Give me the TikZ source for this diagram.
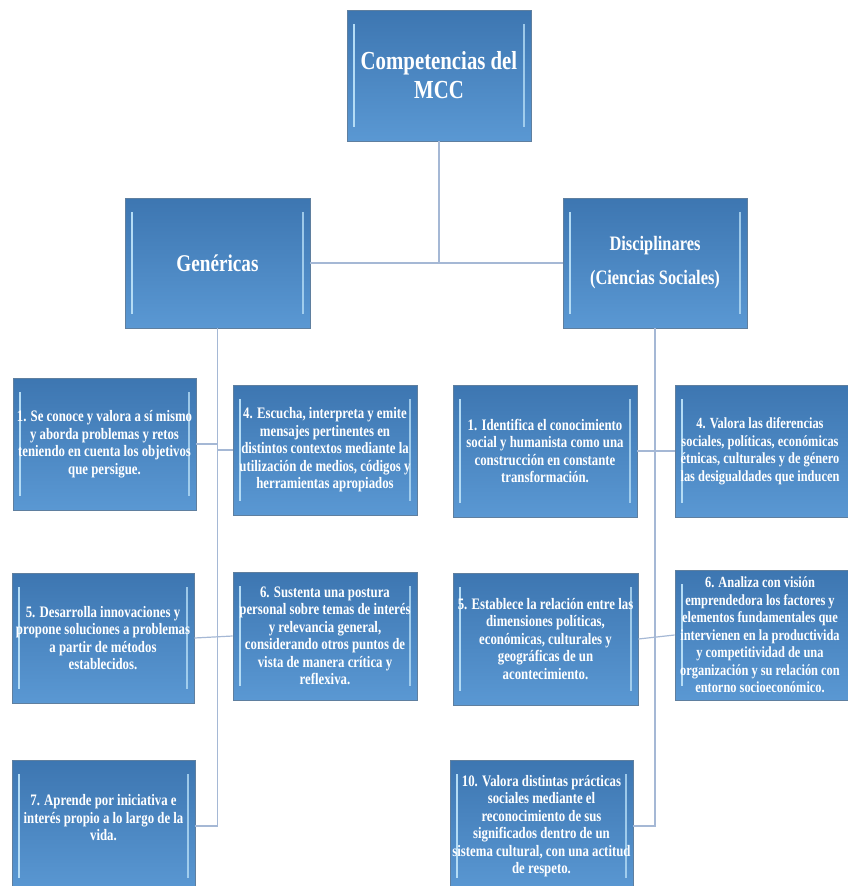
\documentclass[tikz,border=0pt]{standalone}
\usepackage{fontspec}
\newfontfamily\bxf[FakeStretch=0.8]{Liberation Serif}
\definecolor{boxtop}{HTML}{3D76B1}
\definecolor{boxbot}{HTML}{5A98D3}
\definecolor{boxedge}{HTML}{5F7F9F}
\definecolor{bevel}{HTML}{B4DCF5}
\definecolor{conn}{HTML}{A5B8D5}
\tikzset{
  bbox/.style={draw=boxedge, line width=0.8pt, top color=boxtop, bottom color=boxbot,
    text=white, align=center, inner sep=1pt, font=\bxf\bfseries\fontsize{16}{17.5}\selectfont,
    path picture={
      \draw[bevel, line width=1.8pt] ([xshift=7pt,yshift=-14pt]path picture bounding box.north west) -- ([xshift=7pt,yshift=14pt]path picture bounding box.south west);
      \draw[bevel, line width=1.4pt, opacity=0.8] ([xshift=-7pt,yshift=-14pt]path picture bounding box.north east) -- ([xshift=-7pt,yshift=14pt]path picture bounding box.south east);
    }},
  cline/.style={draw=conn, line width=1.2pt},
  cuttext/.style={text=white, align=center, font=\bxf\bfseries\fontsize{15.5}{17.5}\selectfont}
}
\begin{document}
\begin{tikzpicture}[x=1pt,y=-1pt]
\useasboundingbox (0,0) rectangle (848,886);
% top level
\node[bbox, minimum width=184pt, minimum height=131pt, font=\bxf\bfseries\fontsize{26}{29}\selectfont] (top) at (439,75.5) {Competencias del\\MCC};
\node[bbox, minimum width=185pt, minimum height=130pt, font=\bxf\bfseries\fontsize{24}{26}\selectfont] (gen) at (217.5,263) {Genéricas};
\node[bbox, minimum width=184pt, minimum height=130pt, font=\bxf\bfseries\fontsize{20.5}{34}\selectfont] (dis) at (655,263) {Disciplinares\\(Ciencias Sociales)};
% genericas children
\node[bbox, minimum width=183pt, minimum height=132pt] (g1) at (104.5,444) {1. Se conoce y valora a sí mismo\\y aborda problemas y retos\\teniendo en cuenta los objetivos\\que persigue.};
\node[bbox, minimum width=184pt, minimum height=130pt] (g4) at (325,450) {4. Escucha, interpreta y emite\\mensajes pertinentes en\\distintos contextos mediante la\\utilización de medios, códigos y\\herramientas apropiados};
\node[bbox, minimum width=182pt, minimum height=130pt] (g5) at (103,638) {5. Desarrolla innovaciones y\\propone soluciones a problemas\\a partir de métodos\\establecidos.};
\node[bbox, minimum width=184pt, minimum height=128pt] (g6) at (325,636) {6. Sustenta una postura\\personal sobre temas de interés\\y relevancia general,\\considerando otros puntos de\\vista de manera crítica y\\reflexiva.};
\node[bbox, minimum width=183pt, minimum height=132pt] (g7) at (103.5,826) {};
\node[cuttext, font=\bxf\bfseries\fontsize{16}{17.5}\selectfont] (g7t) at (103.5,818) {7. Aprende por iniciativa e\\interés propio a lo largo de la\\vida.};
% disciplinares children
\node[bbox, minimum width=184pt, minimum height=132pt] (r1) at (545,451) {1. Identifica el conocimiento\\social y humanista como una\\construcción en constante\\transformación.};
\node[bbox, minimum width=184pt, minimum height=132pt] (r4) at (767,451) {};
\node[cuttext] (r4t) at (760,451) {4. Valora las diferencias\\sociales, políticas, económicas\\étnicas, culturales y de género\\las desigualdades que inducen};
\node[bbox, minimum width=185pt, minimum height=132pt] (r5) at (545.5,639) {5. Establece la relación entre las\\dimensiones políticas,\\económicas, culturales y\\geográficas de un\\acontecimiento.};
\node[bbox, minimum width=184pt, minimum height=130pt] (r6) at (767,635) {};
\node[cuttext] (r6t) at (760,635) {6. Analiza con visión\\emprendedora los factores y\\elementos fundamentales que\\intervienen en la productivida\\y competitividad de una\\organización y su relación con\\entorno socioeconómico.};
\node[bbox, minimum width=183pt, minimum height=132pt] (r10) at (541.5,826) {10. Valora distintas prácticas\\sociales mediante el\\reconocimiento de sus\\significados dentro de un\\sistema cultural, con una actitud\\de respeto.};
% connectors
\draw[cline] (top.south) -- (top.south |- gen.east);
\draw[cline] (gen.east) -- (dis.west);
\draw[cline] (gen.south) -- (gen.south |- g7.east) -- (g7.east);
\draw[cline] (g1.east) -- (g1.east -| gen.south);
\draw[cline] (g4.west) -- (g4.west -| gen.south);
\draw[cline] (g5.east) -- (g6.west);
\draw[cline] (dis.south) -- (dis.south |- r10.east) -- (r10.east);
\draw[cline] (r1.east) -- (r4.west);
\draw[cline] (r5.east) -- (r6.west);
\end{tikzpicture}
\end{document}
